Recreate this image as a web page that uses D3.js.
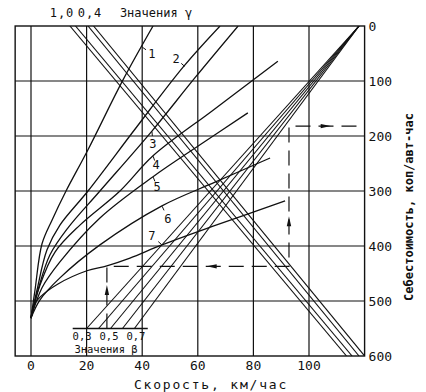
<!DOCTYPE html>
<html><head><meta charset="utf-8">
<script src="https://cdn.jsdelivr.net/npm/d3@7"></script>
<style>
html,body{margin:0;padding:0;background:#fff;}
text{font-family:"DejaVu Sans Mono",monospace;fill:#111;}
</style></head>
<body><svg id="c" width="426" height="392"></svg>
<script>
// ---- data ----
const xTicks = [0, 20, 40, 60, 80, 100];
const yTicks = [0, 100, 200, 300, 400, 500, 600];
const curveLabels = ["1", "2", "3", "4", "5", "6", "7"];
// cost (коп/авт-час) vs speed (км/час) curves 1..7, as [speed, cost]
const curve1 = [[0,531],[1.44,480],[3.96,396],[7.55,353],[12.6,300],[20.5,225],[33.1,98],[43.9,0]];
const curve2 = [[0,531],[2.16,480],[5.76,407],[10.4,362],[20.5,300],[37.8,185],[55,73],[68,0]];
const curve3 = [[0,531],[2.52,480],[6.83,416],[13.3,367],[24.8,300],[43.5,191],[59,94],[74.5,0]];
const curve4 = [[0,531],[3.24,471],[8.63,411],[17.6,362],[32,300],[43.9,236],[65.5,153],[88.8,64]];
const curve5 = [[0,531],[3.96,476],[10.4,429],[24.8,349],[43.9,274],[60.8,216],[78,158]];
const curve6 = [[0,531],[3.24,498],[10.4,458],[24.8,398],[47.1,327],[66.2,284],[86,240]];
const curve7 = [[0,531],[1.08,507],[3.24,493],[9.7,469],[20.1,445],[27.3,436],[35.6,422],[47.1,398],[65.5,364],[91.4,318]];
const curves = [curve1, curve2, curve3, curve4, curve5, curve6, curve7];
// points where each label's leader touches its curve [speed, cost]
const labelTouch = [[39.9,38],[55.4,74],[43.5,191],[43.9,236],[43.9,274],[47.1,327],[47.1,398]];
// γ family: speed at cost 0 and at cost 600
const gammaValues = ["1,0", "0,8", "0,6", "0,4"];
const gammaTop = [14, 16, 20.5, 22.5];
const gammaBottom = [113.5, 115.5, 118, 120];
// β family: converge at [118, 0], reach cost 550 at these speeds
const betaValues = ["0,3", "0,4", "0,5", "0,6", "0,7"];
const betaApex = [118, 0];
const betaBase = [20, 24.3, 28.6, 32.9, 37.2];
const betaBaseCost = 550;
const betaBaseSpan = [15, 42];
// example (dashed) route with arrows
const route = [[27.3, 550], [27.3, 437], [92.8, 437], [92.8, 182], [119, 182]];

// ---- scales ----
const svg = d3.select("#c");
const x = d3.scaleLinear().domain([0, 100]).range([31, 309]);
const y = d3.scaleLinear().domain([0, 600]).range([26, 356]);
const xMin = -5.7, xMax = 120;
const stroke = "#111";

svg.append("defs").append("clipPath").attr("id", "clip")
  .append("rect").attr("x", x(xMin)).attr("y", y(0)).attr("width", x(xMax) - x(xMin)).attr("height", y(600) - y(0));

// grid
const g = svg.append("g");
g.selectAll(".vg").data(xTicks).join("line")
  .attr("x1", d => x(d)).attr("x2", d => x(d)).attr("y1", y(0)).attr("y2", y(600))
  .attr("stroke", stroke).attr("stroke-width", 1.2);
g.selectAll(".hg").data(yTicks.slice(1, -1)).join("line")
  .attr("x1", x(xMin)).attr("x2", x(xMax)).attr("y1", d => y(d)).attr("y2", d => y(d))
  .attr("stroke", stroke).attr("stroke-width", 1.2);
g.append("rect").attr("x", x(xMin)).attr("y", y(0)).attr("width", x(xMax) - x(xMin)).attr("height", y(600) - y(0))
  .attr("fill", "none").attr("stroke", stroke).attr("stroke-width", 1.4);

const plot = svg.append("g").attr("clip-path", "url(#clip)");
const line = d3.line().x(d => x(d[0])).y(d => y(d[1]));

// γ lines
plot.selectAll(".gam").data(gammaTop).join("line")
  .attr("x1", d => x(d)).attr("y1", y(0))
  .attr("x2", (d, i) => x(gammaBottom[i])).attr("y2", y(600))
  .attr("stroke", stroke).attr("stroke-width", 1.1);
// β lines
plot.selectAll(".bet").data(betaBase).join("line")
  .attr("x1", x(betaApex[0])).attr("y1", y(betaApex[1]))
  .attr("x2", d => x(d)).attr("y2", y(betaBaseCost))
  .attr("stroke", stroke).attr("stroke-width", 1.1);
plot.append("line").attr("x1", x(betaBaseSpan[0])).attr("x2", x(betaBaseSpan[1]))
  .attr("y1", y(betaBaseCost)).attr("y2", y(betaBaseCost)).attr("stroke", stroke).attr("stroke-width", 1.4);

// curves
const cl = d3.line().x(d => x(d[0])).y(d => y(d[1])).curve(d3.curveCatmullRom.alpha(0.5));
plot.selectAll(".crv").data(curves).join("path")
  .attr("d", cl).attr("fill", "none").attr("stroke", stroke).attr("stroke-width", 1.3);

// route (dashed)
plot.append("path").attr("d", line(route)).attr("fill", "none").attr("stroke", stroke)
  .attr("stroke-width", 1.2).attr("stroke-dasharray", "15,8");

// arrows
function arrow(px, py, dir) {
  const s = 5, w = 2.2;
  let pts;
  if (dir === "up") pts = [[px, py - s], [px - w, py + s], [px + w, py + s]];
  if (dir === "right") pts = [[px + s, py], [px - s, py - w], [px - s, py + w]];
  if (dir === "left") pts = [[px - s, py], [px + s, py - w], [px + s, py + w]];
  svg.append("path").attr("d", "M" + pts.join("L") + "Z").attr("fill", stroke);
}
arrow(x(route[0][0]), y(480), "up");
arrow(x(65), y(route[1][1]), "left");
arrow(x(route[2][0]), y(355), "up");
arrow(x(106), y(route[3][1]), "right");

// curve labels (centre offsets from the touch point, px) with short leader ticks
const labelOff = [[10, 7], [-9, -8], [1, 12], [3, 9], [4, 10], [6, 13], [-10, -9]];
labelTouch.forEach((t, i) => {
  const tx = x(t[0]), ty = y(t[1]);
  const cx = tx + labelOff[i][0], cy = ty + labelOff[i][1];
  svg.append("text").attr("x", cx).attr("y", cy + 4.5).attr("text-anchor", "middle")
    .attr("font-size", 12).text(curveLabels[i]);
  const dx = cx - tx, dy = cy - ty, L = Math.hypot(dx, dy);
  svg.append("line").attr("x1", tx + dx / L * 0.5).attr("y1", ty + dy / L * 0.5)
    .attr("x2", tx + dx / L * 5).attr("y2", ty + dy / L * 5)
    .attr("stroke", stroke).attr("stroke-width", 1);
});

// axis tick labels
svg.selectAll(".xt").data(xTicks).join("text")
  .attr("x", d => x(d)).attr("y", y(600) + 14).attr("text-anchor", "middle")
  .attr("font-size", 13).text(d => d);
svg.selectAll(".yt").data(yTicks).join("text")
  .attr("x", x(xMax) + 4).attr("y", d => y(d) + 5).attr("text-anchor", "start")
  .attr("font-size", 13).text(d => d);

svg.append("text").attr("x", 211).attr("y", 389).attr("text-anchor", "middle")
  .attr("font-size", 13).attr("letter-spacing", 1.8).text("Скорость, км/час");
svg.append("text").attr("transform", "translate(413," + 207 + ") rotate(-90)")
  .attr("text-anchor", "middle").attr("font-size", 12).attr("font-weight", "bold")
  .text("Себестоимость, коп/авт-час");

// γ header
svg.append("text").attr("x", 62).attr("y", 17).attr("text-anchor", "middle")
  .attr("font-size", 12).attr("letter-spacing", 1).text(gammaValues[0]);
svg.append("text").attr("x", 90).attr("y", 17).attr("text-anchor", "middle")
  .attr("font-size", 12).attr("letter-spacing", 1).text(gammaValues[3]);
svg.append("text").attr("x", 156).attr("y", 17).attr("text-anchor", "middle")
  .attr("font-size", 12).text("Значения γ");

// β footer
[0, 2, 4].forEach((i, k) => {
  svg.append("text").attr("x", x(betaBase[i]) - 4.5 + 3 * k).attr("y", y(betaBaseCost) + 11)
    .attr("text-anchor", "middle").attr("font-size", 10.5).text(betaValues[i]);
});
svg.append("text").attr("x", 106).attr("y", y(betaBaseCost) + 24.5).attr("text-anchor", "middle")
  .attr("font-size", 10.5).text("Значения β");
</script></body></html>
